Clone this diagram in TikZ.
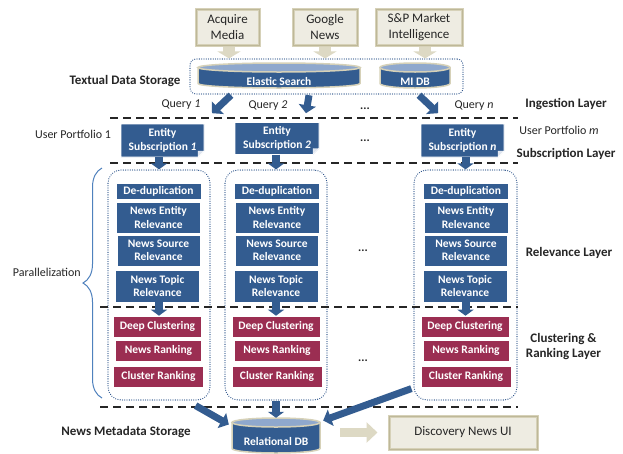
\documentclass[tikz,border=0pt]{standalone}
\usepackage{fontspec}
\setmainfont{Carlito}
\usetikzlibrary{arrows.meta,calc,decorations.pathreplacing}
\definecolor{bfill}{RGB}{51,92,144}
\definecolor{rfill}{RGB}{155,46,82}
\definecolor{beigef}{RGB}{238,236,226}
\definecolor{beiged}{RGB}{214,209,184}
\definecolor{beigedk}{RGB}{190,184,152}
\definecolor{beigea}{RGB}{221,217,196}
\definecolor{dotblue}{RGB}{47,85,140}
\definecolor{cyltop}{RGB}{143,168,205}
\definecolor{txt}{RGB}{38,38,38}
\definecolor{braceblue}{RGB}{79,129,189}
\definecolor{foldc}{RGB}{222,228,238}

\newcommand\mycyl[6]{%
  \pgfmathsetmacro\mycx{(#2+#4)/2}%
  \pgfmathsetmacro\myrx{(#4-#2)/2}%
  \pgfmathsetmacro\myya{#3+4.5}%
  \pgfmathsetmacro\myyb{#5-4.5}%
  \path[fill=bfill, draw=beiged, line width=1.5pt] (#2,\myya) -- (#2,\myyb) arc[start angle=180, end angle=360, x radius=\myrx pt, y radius=4.5pt] -- (#4,\myya) -- cycle;
  \path[fill=cyltop, draw=beiged, line width=1.5pt] (\mycx,\myya) ellipse[x radius=\myrx pt, y radius=4.5pt];
  \node[minimum width=#4pt-#2pt, minimum height=#5pt-#3pt] (#1) at (\mycx,{(#3+#5)/2}) {};
  \node[boxtext] at (\mycx,{(\myya+#5)/2+4}) {#6};
}
\newcommand\subbox[6]{%
  \pgfmathsetmacro\myxa{#2-#4/2}\pgfmathsetmacro\myxb{#2+#4/2}%
  \pgfmathsetmacro\myya{#3-#5/2}\pgfmathsetmacro\myyb{#3+#5/2}%
  \filldraw[fill=bfill, draw=white, line width=0.6pt] (\myxa,\myya) -- (\myxb,\myya) -- (\myxb,\myyb-6) -- (\myxb-6,\myyb) -- (\myxa,\myyb) -- cycle;
  \filldraw[fill=foldc, draw=white, line width=0.4pt] (\myxb,\myyb-6) -- (\myxb-6,\myyb) -- (\myxb-6,\myyb-6) -- cycle;
  \node[boxtext, minimum width=#4pt, minimum height=#5pt] (#1) at (#2,#3) {#6};
}
\newcommand\colboxes[2]{%
  \node[bbox, minimum width=85pt, minimum height=16pt] (#2a) at (#1,191) {De-duplication};
  \node[bbox, minimum width=84pt, minimum height=31pt] (#2b) at (#1,217.5) {News Entity\\Relevance};
  \node[bbox, minimum width=83pt, minimum height=31pt] (#2c) at (#1,250.5) {News Source\\Relevance};
  \node[bbox, minimum width=84pt, minimum height=32pt] (#2d) at (#1-1,286) {News Topic\\Relevance};
  \node[rbox, minimum width=88pt, minimum height=21pt] (#2e) at (#1-1,326.5) {Deep Clustering};
  \node[rbox, minimum width=86pt, minimum height=21pt] (#2f) at (#1,350.5) {News Ranking};
  \node[rbox, minimum width=90pt, minimum height=21pt] (#2g) at (#1,376.5) {Cluster Ranking};
}

\begin{document}
\begin{tikzpicture}[x=1pt,y=-1pt,
  every node/.style={inner sep=0pt, text=txt},
  srcbox/.style={draw=beiged, line width=3pt, fill=beigef, align=center, font=\fontsize{13}{16}\selectfont,
    postaction={draw=beigedk, line width=0.5pt}},
  boxtext/.style={text=white, align=center, font=\bfseries\fontsize{11.5}{13.5}\selectfont},
  bbox/.style={boxtext, fill=bfill, draw=white, line width=0.6pt},
  rbox/.style={boxtext, fill=rfill, draw=white, line width=0.6pt},
  lbl/.style={font=\bfseries\fontsize{13}{15}\selectfont, align=center},
  smalltext/.style={font=\fontsize{12}{14}\selectfont},
  dotbox/.style={draw=dotblue, line width=1.2pt, dash pattern=on 0.1pt off 2.2pt, line cap=round, rounded corners=13pt},
  layerline/.style={draw=black!85, line width=1.5pt, dash pattern=on 8pt off 5pt},
  beigearr/.style={draw=beigea, line width=12pt, -{Triangle[length=7pt,width=23pt]}},
  beigearrh/.style={draw=beigea, line width=9pt, -{Triangle[length=11pt,width=20pt]}},
  bluearr/.style={draw=bfill, line width=7pt, -{Triangle[length=8pt,width=17pt]}},
  bsmall/.style={draw=bfill, line width=8pt, -{Triangle[length=6pt,width=16pt]}}
]
\fill[white] (0,0) rectangle (623,453);
\useasboundingbox (0,0) rectangle (623,453);

% sources
\node[srcbox, minimum width=63pt, minimum height=36pt] (acq) at (227.5,27) {Acquire\\Media};
\node[srcbox, minimum width=64pt, minimum height=36pt] (goo) at (325,27) {Google\\News};
\node[srcbox, minimum width=86pt, minimum height=36pt] (snp) at (419,27) {S\&P Market\\Intelligence};

% storage
\node[dotbox, rounded corners=6pt, minimum width=273pt, minimum height=35pt] (store) at (326.5,76.5) {};
\mycyl{es}{198}{63}{360}{88}{Elastic Search}
\mycyl{mi}{380}{63}{450}{88}{MI DB}
\node[lbl] at (125,81) {Textual Data Storage};

\coordinate (acqa) at ($(acq.south)+(1.5,0)$);
\coordinate (snpa) at ($(snp.south)+(6,0)$);
\draw[beigearr] (acqa) -- (acqa |- store.north);
\draw[beigearr] (goo.south) -- (goo.south |- store.north);
\draw[beigearr] (snpa) -- (snpa |- store.north);

% queries
\draw[bluearr] ($(es.south)+(-48,7)$) -- ($(es.south)+(-67,25)$);
\draw[bluearr] ($(es.south)+(30,7)$) -- ($(es.south)+(27,25)$);
\draw[bluearr] ($(mi.south)+(4,7)$) -- ($(mi.south)+(23,25)$);
\node[smalltext] at (181,105) {Query \textit{1}};
\node[smalltext] at (268,106) {Query \textit{2}};
\node[smalltext] at (474,106) {Query \textit{n}};
\node[smalltext] at (365,109) {\textbf{...}};
\node[lbl] at (566,104) {Ingestion Layer};

\draw[layerline] (110,118) -- (518,118);

% subscriptions
\subbox{s1}{162.5}{140.5}{83}{33}{Entity\\Subscription \textit{1}}
\subbox{s2}{277}{138.5}{84}{32}{Entity\\Subscription \textit{2}}
\subbox{s3}{462.5}{140.5}{83}{33}{Entity\\Subscription \textit{n}}
\node[smalltext] at (73,134) {User Portfolio 1};
\node[smalltext] at (559,130) {User Portfolio \textit{m}};
\node[smalltext] at (365,141) {\textbf{...}};
\node[lbl] at (566,154) {Subscription Layer};

\draw[layerline] (110,163) -- (518,163);

% columns
\node[dotbox, minimum width=102pt, minimum height=230pt] (c1) at (159,285) {};
\node[dotbox, minimum width=102pt, minimum height=230pt] (c2) at (276,285) {};
\node[dotbox, minimum width=103pt, minimum height=230pt] (c3) at (465.5,285) {};
\colboxes{158.5}{a}
\colboxes{277}{b}
\colboxes{466}{c}

\draw[bsmall] (c1.north |- s1.south) -- (c1.north);
\draw[bsmall] (c2.north |- s2.south) -- (c2.north);
\draw[bsmall] (c3.north |- s3.south) -- (c3.north);

\draw[layerline] (100,307) -- (518,307);
\draw[bsmall] (c1.center |- ad.south) -- (c1.center |- ae.north);
\draw[bsmall] (c2.center |- bd.south) -- (c2.center |- be.north);
\draw[bsmall] (c3.center |- cd.south) -- (c3.center |- ce.north);

\node[smalltext] at (363,251) {\textbf{...}};
\node[smalltext] at (363,361) {\textbf{...}};
\node[lbl] at (569,253) {Relevance Layer};
\node[lbl] at (563.5,347) {Clustering \&\\Ranking Layer};

% brace
\draw[braceblue, line width=1pt, decorate, decoration={brace, amplitude=19pt}] (102,398) -- (102,168);
\node[smalltext, anchor=east] at (81,272) {Parallelization};

\draw[layerline] (100,407) -- (518,407);

% relational DB
\mycyl{db}{232}{418}{320}{453}{Relational DB}
\node[lbl] at (126,432) {News Metadata Storage};
\draw[bluearr] ($(c1.south east)+(-15,5)$) -- ($(db.west)+(-3,-11)$);
\draw[bsmall] (c2.south) -- (c2.south |- db.north);
\draw[bluearr] ($(c3.south west)+(-2,-12)$) -- ($(db.east)+(3,-15)$);

% UI
\node[srcbox, minimum width=148pt, minimum height=33pt] (ui) at (463,432.5) {Discovery News UI};
\draw[beigearrh] ($(db.east)+(20,-3)$) -- ($(ui.west)+(-10,0)$);
\end{tikzpicture}
\end{document}
